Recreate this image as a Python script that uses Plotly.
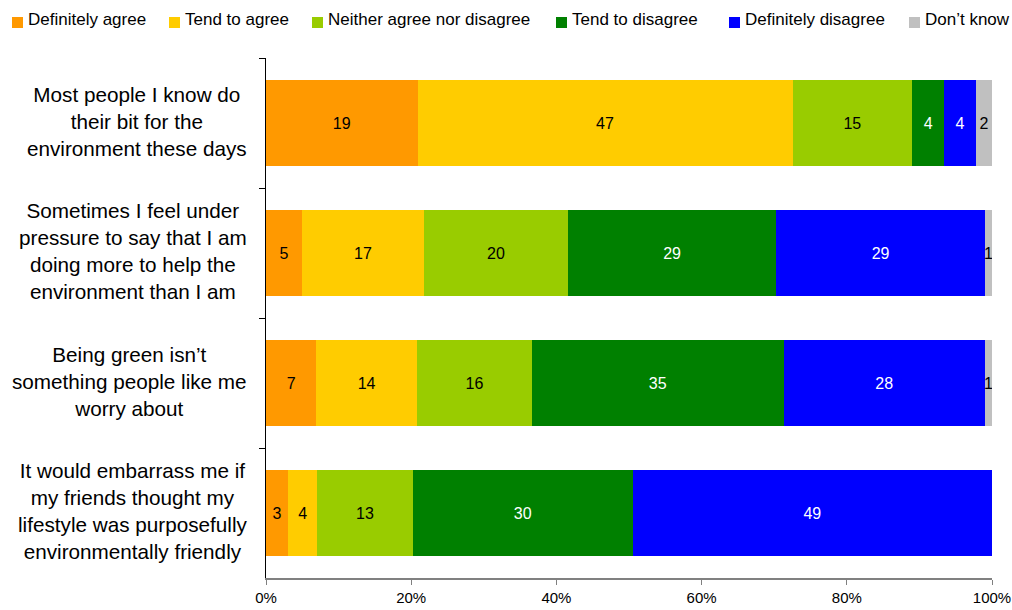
import plotly.graph_objects as go

# Survey statements (top to bottom) and response shares
statements = [
    "Most people I know do<br>their bit for the<br>environment these days",
    "Sometimes I feel under<br>pressure to say that I am<br>doing more to help the<br>environment than I am",
    "Being green isn’t<br>something people like me<br>worry about",
    "It would embarrass me if<br>my friends thought my<br>lifestyle was purposefully<br>environmentally friendly",
]
categories = ["Q1", "Q2", "Q3", "Q4"]

responses = ["Definitely agree", "Tend to agree", "Neither agree nor disagree",
             "Tend to disagree", "Definitely disagree", "Don’t know"]

definitely_agree = [19, 5, 7, 3]
tend_to_agree = [47, 17, 14, 4]
neither = [15, 20, 16, 13]
tend_to_disagree = [4, 29, 35, 30]
definitely_disagree = [4, 29, 28, 49]
dont_know = [2, 1, 1, 0]

series = [definitely_agree, tend_to_agree, neither,
          tend_to_disagree, definitely_disagree, dont_know]
colors = ["#FF9900", "#FFCC00", "#99CC00", "#008000", "#0000FF", "#C0C0C0"]
text_colors = ["black", "black", "black", "white", "white", "black"]

x_ticks = [0, 20, 40, 60, 80, 100]
x_tick_labels = ["0%", "20%", "40%", "60%", "80%", "100%"]

FONT = "Liberation Sans, Arial, sans-serif"

W, H = 1012, 610
M_L, M_R, M_T, M_B = 266, 20, 58, 32
PW = W - M_L - M_R
PH = H - M_T - M_B


def px_x(px):
    return (px - M_L) / PW


def px_y(py):
    return (H - M_B - py) / PH


fig = go.Figure()
for name, vals, col, tcol in zip(responses, series, colors, text_colors):
    fig.add_trace(go.Bar(
        y=categories, x=vals, orientation="h", name=name,
        marker=dict(color=col, line=dict(width=0)),
        text=[str(v) if v > 0 else "" for v in vals],
        texttemplate="%{text}",
        textposition="inside", insidetextanchor="middle", textangle=0,
        constraintext="none",
        textfont=dict(family=FONT, size=16, color=tcol),
        showlegend=False, hoverinfo="skip",
    ))

# Statement labels, centred in a block to the left of the axis
annotations = []
for cat, label in zip(categories, statements):
    annotations.append(dict(
        x=0, xref="paper", y=cat, yref="y", xanchor="right", yanchor="middle",
        xshift=-17, yshift=2, align="center", showarrow=False, text=label,
        font=dict(family=FONT, size=20.7, color="black"),
    ))

# Legend row along the top
shapes = []
legend_x = [12, 169, 312, 556, 729, 909]
for lx, name, col in zip(legend_x, responses, colors):
    shapes.append(dict(
        type="rect", xref="paper", yref="paper",
        x0=px_x(lx), x1=px_x(lx + 11), y0=px_y(28), y1=px_y(17),
        fillcolor=col, line=dict(width=0),
    ))
    annotations.append(dict(
        x=px_x(lx + 14), xref="paper", y=px_y(19), yref="paper",
        xanchor="left", yanchor="middle", showarrow=False, text=name,
        font=dict(family=FONT, size=17, color="black"),
    ))

fig.update_layout(
    width=W, height=H,
    margin=dict(l=M_L, r=M_R, t=M_T, b=M_B, autoexpand=False),
    paper_bgcolor="white", plot_bgcolor="white",
    barmode="stack", barnorm="percent", bargap=0.34,
    font=dict(family=FONT, color="black"),
    annotations=annotations, shapes=shapes,
    xaxis=dict(
        range=[0, 100], tickmode="array", tickvals=x_ticks, ticktext=x_tick_labels,
        showgrid=False, zeroline=False, automargin=False,
        showline=True, linecolor="#808080", linewidth=2,
        ticks="outside", ticklen=5, tickcolor="#808080", tickwidth=1,
        tickfont=dict(family=FONT, size=15, color="black"),
    ),
    yaxis=dict(
        type="category", categoryorder="array", categoryarray=categories,
        range=[3.5, -0.5], showticklabels=False, tickson="boundaries",
        showgrid=False, zeroline=False, automargin=False,
        showline=True, linecolor="black", linewidth=1,
        ticks="outside", ticklen=6, tickcolor="black",
    ),
)

fig.write_html("out.html")
